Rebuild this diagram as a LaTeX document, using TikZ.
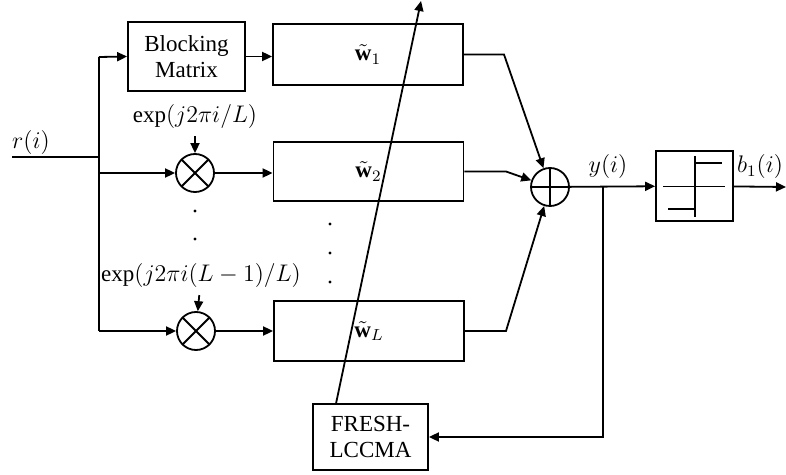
\documentclass[tikz,border=0pt]{standalone}
\usepackage{fontspec}
\setmainfont{Liberation Serif}
\usetikzlibrary{arrows.meta}

\tikzset{
  blk/.style={draw, line width=0.9pt, align=center, inner sep=1pt},
  mult/.style={circle, draw, line width=0.9pt, minimum size=19pt, inner sep=0pt,
    path picture={\draw[line width=0.9pt] (path picture bounding box.north west) -- (path picture bounding box.south east)
      (path picture bounding box.north east) -- (path picture bounding box.south west);}},
  summ/.style={circle, draw, line width=0.9pt, minimum size=19pt, inner sep=0pt,
    path picture={\draw[line width=0.9pt] (path picture bounding box.north) -- (path picture bounding box.south)
      (path picture bounding box.east) -- (path picture bounding box.west);}},
  sig/.style={line width=0.9pt, -{Triangle[length=5pt,width=4.5pt]}},
  wire/.style={line width=0.9pt},
}

\begin{document}
\begin{tikzpicture}[x=0.5pt, y=-0.5pt, font=\fontsize{11.5}{13}\selectfont]
\useasboundingbox (0,0) rectangle (786,475);

% blocks
\node[blk, minimum width=58.5pt, minimum height=34.5pt] (bm) at (186.5,56.5) {Blocking\\Matrix};
\node[blk, minimum width=95pt, minimum height=30.5pt] (w1) at (368,54.5) {$\tilde{\mathbf{w}}_1$};
\node[blk, minimum width=95pt, minimum height=29.5pt] (w2) at (368.5,171.5) {$\tilde{\mathbf{w}}_2$};
\node[blk, minimum width=95pt, minimum height=30pt] (wL) at (369,331) {$\tilde{\mathbf{w}}_L$};
\node[blk, minimum width=57.5pt, minimum height=33pt] (fresh) at (370.5,437) {FRESH-\\LCCMA};
\node[blk, minimum width=38.5pt, minimum height=35pt] (dec) at (694.5,186) {};

% mixers and adder
\node[mult] (m1) at (195,173) {};
\node[mult] (m2) at (196,331) {};
\node[summ] (sum) at (550,187) {};

% labels
\node (rlab) at (31,143) {$r(i)$};
\node (e1) at (195,117) {$\exp\bigl(j2\pi i/L\bigr)$};
\node (e2) at (201,276) {$\exp\bigl(j2\pi i(L-1)/L\bigr)$};
\node (ylab) at (608,167) {$y(i)$};
\node (blab) at (760,167) {$b_1(i)$};

\coordinate (in) at (12,157);
\coordinate (bus) at (99,157);
\coordinate (btop) at (99,57);
\coordinate (bmid) at (99,173);
\coordinate (bbot) at (99,331);
\coordinate (out) at (786,187);
\coordinate (tap) at (603,187);
\coordinate (tip) at (421,1);

% input bus
\draw[wire] (in) -- (bus);
\draw[wire] (btop) -- (bbot);
\draw[sig] (btop) -- (bm.west);
\draw[sig] (bmid) -- (m1.west);
\draw[sig] (bbot) -- (m2.west);
\draw[sig] (e1) -- (m1);
\draw[sig] (e2) -- (m2);
\draw[sig] (bm.east) -- (w1.west |- bm.east);
\draw[sig] (m1.east) -- (w2.west |- m1.east);
\draw[sig] (m2.east) -- (wL.west |- m2.east);

% into adder
\draw[sig] (w1.east) -- (504,54.5) -- (sum);
\draw[sig] (w2.east) -- (506,171.5) -- (sum);
\draw[sig] (wL.east) -- (506,331) -- (sum);
\draw[sig] (sum) -- (dec);
\draw[sig] (dec) -- (out);

% feedback and adaptation
\draw[sig] (tap) |- (fresh.east);
\draw[sig] (fresh.north west) ++(24,0) -- (tip);

% decision device
\draw[line width=0.5pt] (663,187) -- (725,187);
\draw[line width=0.7pt] (695,156) -- (695,217);
\draw[line width=0.7pt] (695,163) -- (722,163);
\draw[line width=0.7pt] (668,209) -- (695,209);

% dots
\foreach \y in {211,239} \fill (195,\y) circle (0.8pt);
\foreach \y in {224,253,282} \fill (330,\y) circle (0.8pt);
\end{tikzpicture}
\end{document}
